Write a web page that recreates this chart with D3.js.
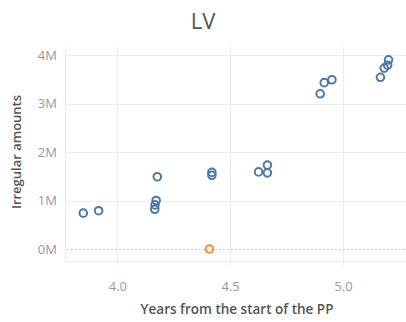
<!DOCTYPE html>
<html>
<head>
<meta charset="utf-8">
<script src="https://cdn.jsdelivr.net/npm/d3@7"></script>
<style>
  html, body { margin: 0; padding: 0; background: #fff; }
  svg { display: block; font-family: "Open Sans", "Noto Sans", sans-serif; }
</style>
</head>
<body>
<svg id="chart" width="406" height="322"></svg>
<script>
// Years since start of the PP, irregular amounts (millions), and group flag
const years = [3.849, 3.917, 4.177, 4.172, 4.167, 4.166, 4.419, 4.419, 4.408,
               4.626, 4.665, 4.665, 4.899, 4.917, 4.951, 5.166, 5.183, 5.198, 5.202];
const amounts = [0.74, 0.79, 1.49, 1.00, 0.91, 0.82, 1.58, 1.52, 0.0,
                 1.59, 1.73, 1.57, 3.20, 3.43, 3.49, 3.54, 3.73, 3.79, 3.90];
const groups = ["a", "a", "a", "a", "a", "a", "a", "a", "b",
                "a", "a", "a", "a", "a", "a", "a", "a", "a", "a"];
const xTicks = [4.0, 4.5, 5.0];
const yTicks = [0, 1, 2, 3, 4];

const svg = d3.select("#chart");
const plotLeft = 65, plotRight = 405, plotTop = 47, plotBottom = 261;

const x = d3.scaleLinear().domain([3.768, 5.275]).range([plotLeft, plotRight]);
const y = d3.scaleLinear().domain([-0.247, 4.165]).range([plotBottom, plotTop]);
const color = d3.scaleOrdinal().domain(["a", "b"]).range(["#4e79a7", "#f28e2b"]);

// Title
svg.append("text")
  .attr("x", 203).attr("y", 29)
  .attr("text-anchor", "middle")
  .attr("font-size", 22)
  .attr("fill", "#555")
  .text("LV");

// Grid
const grid = svg.append("g").attr("stroke", "#ececec").attr("stroke-width", 1);
grid.selectAll("line.v").data(xTicks).join("line")
  .attr("x1", d => Math.round(x(d)) + 0.5).attr("x2", d => Math.round(x(d)) + 0.5)
  .attr("y1", plotTop).attr("y2", plotBottom + 5);
grid.selectAll("line.h").data(yTicks.filter(d => d !== 0)).join("line")
  .attr("x1", plotLeft).attr("x2", plotRight + 1)
  .attr("y1", d => Math.round(y(d)) + 0.5).attr("y2", d => Math.round(y(d)) + 0.5);
// plot frame: left and bottom edges
grid.append("line").attr("x1", plotLeft + 0.5).attr("x2", plotLeft + 0.5).attr("y1", plotTop).attr("y2", plotBottom + 0.5);
grid.append("line").attr("x1", plotLeft).attr("x2", plotRight + 1).attr("y1", plotBottom + 0.5).attr("y2", plotBottom + 0.5);

// Zero line (dotted)
svg.append("line")
  .attr("x1", plotLeft + 2).attr("x2", plotRight)
  .attr("y1", Math.round(y(0)) + 0.5).attr("y2", Math.round(y(0)) + 0.5)
  .attr("stroke", "#bbb").attr("stroke-width", 1)
  .attr("stroke-dasharray", "1.5,2.5");

// Axes labels via d3 axes
const yAxis = svg.append("g")
  .attr("transform", `translate(${plotLeft},0)`)
  .call(d3.axisLeft(y).tickValues(yTicks).tickFormat(d => d + "M").tickSize(0).tickPadding(8));
yAxis.select(".domain").remove();
yAxis.selectAll("text").attr("font-size", 13).attr("fill", "#999").attr("font-family", "'Open Sans', sans-serif");

const xAxis = svg.append("g")
  .attr("transform", `translate(0,${plotBottom})`)
  .call(d3.axisBottom(x).tickValues(xTicks).tickFormat(d3.format(".1f")).tickSize(0).tickPadding(21));
xAxis.select(".domain").remove();
xAxis.selectAll("text").attr("font-size", 13).attr("fill", "#999").attr("font-family", "'Open Sans', sans-serif");

// Axis titles
svg.append("text")
  .attr("transform", "translate(21,152) rotate(-90)")
  .attr("text-anchor", "middle")
  .attr("font-size", 13)
  .attr("font-weight", 600)
  .attr("fill", "#555")
  .text("Irregular amounts");

svg.append("text")
  .attr("x", 237).attr("y", 314)
  .attr("text-anchor", "middle")
  .attr("font-size", 13.5)
  .attr("font-weight", 600)
  .attr("fill", "#555")
  .text("Years from the start of the PP");

// Points
const pts = years.map((v, i) => ({ x: v, y: amounts[i], g: groups[i] }));
svg.append("g").selectAll("circle").data(pts).join("circle")
  .attr("cx", d => x(d.x))
  .attr("cy", d => y(d.y))
  .attr("r", 3.8)
  .attr("fill", "none")
  .attr("stroke", d => color(d.g))
  .attr("stroke-width", 2);
</script>
</body>
</html>
